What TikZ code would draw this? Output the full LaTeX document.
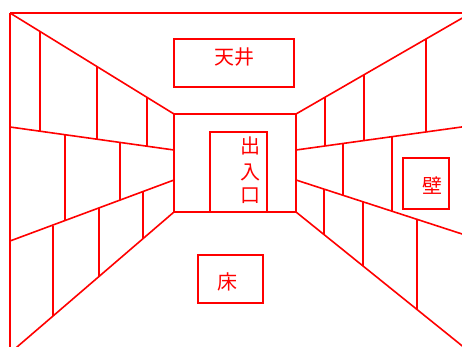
\documentclass[tikz,border=0pt]{standalone}
\usepackage{fontspec}
\newfontfamily\cjk{Noto Sans CJK JP}
\begin{document}
\begin{tikzpicture}[x=1pt,y=-1pt,
  wall/.style={draw=red,line width=1.6pt},
  labelbox/.style={draw=red,line width=1.6pt},
  lbl/.style={text=red,inner sep=0pt,font=\cjk\fontsize{20}{24}\selectfont}]
\useasboundingbox (0,0) rectangle (462,347);
\clip (0,0) rectangle (462,347);
% corners
\coordinate (otl) at (10,13);
\coordinate (otr) at (471,13);
\coordinate (obl) at (10,353);
\coordinate (obr) at (471,353);
\coordinate (itl) at (174,114);
\coordinate (itr) at (296,114);
\coordinate (ibl) at (174,212);
\coordinate (ibr) at (296,212);
% outer frame
\draw[wall] (otl) -- (otr);
\draw[wall] (otl) -- (10,347);
% perspective edges
\draw[wall] (otl) -- (itl);
\draw[wall] (otr) -- (itr);
\draw[wall] (ibl) -- (obl);
\draw[wall] (ibr) -- (obr);
% back wall
\draw[wall] (itl) rectangle (ibr);
% left wall courses
\draw[wall] (10,127) -- (174,150);
\draw[wall] (10,241) -- (174,180);
\draw[wall] (40,31.5) -- (40,131.2);
\draw[wall] (97,66.6) -- (97,139.2);
\draw[wall] (147,97.4) -- (147,146.2);
\draw[wall] (65,134.7) -- (65,220.5);
\draw[wall] (120,142.4) -- (120,200.1);
\draw[wall] (53,225.7) -- (53,316);
\draw[wall] (99,207.9) -- (99,276.5);
\draw[wall] (143,191.5) -- (143,238.7);
% right wall courses
\draw[wall] (296,150) -- (471,125.7);
\draw[wall] (296,180) -- (471,236.9);
\draw[wall] (325,97.3) -- (325,146);
\draw[wall] (364,74.8) -- (364,140.5);
\draw[wall] (426,39) -- (426,131.9);
\draw[wall] (343,143.5) -- (343,195.3);
\draw[wall] (392,136.7) -- (392,211.2);
\draw[wall] (324,189.1) -- (324,234.4);
\draw[wall] (363,201.8) -- (363,265.6);
\draw[wall] (417,219.3) -- (417,308.8);
% labels
\draw[labelbox] (174,39) rectangle (294,87);
\node[lbl] (ceil) at (234,57.5) {天井};
\draw[labelbox] (210,132) rectangle (267,212);
\node[lbl] (ex1) at (250,146) {出};
\node[lbl] (ex2) at (250,172) {入};
\node[lbl] (ex3) at (250,195.5) {口};
\draw[labelbox] (403,158) rectangle (449,209);
\node[lbl] (wl) at (432,186) {壁};
\draw[labelbox] (198,255) rectangle (263,303);
\node[lbl] (fl) at (227.5,282) {床};
\end{tikzpicture}
\end{document}
